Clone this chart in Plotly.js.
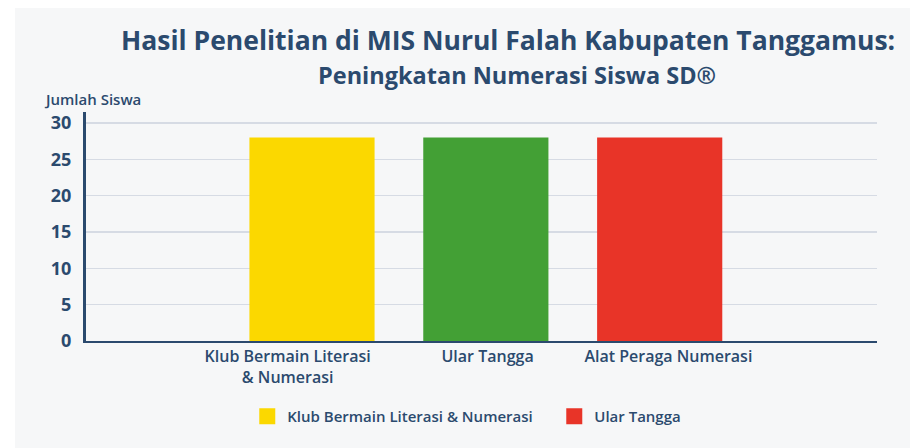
<!DOCTYPE html>
<html><head><meta charset="utf-8">
<script src="https://cdn.plot.ly/plotly-3.0.1.min.js"></script>
<style>html,body{margin:0;padding:0;background:#fff}#chart{width:910px;height:448px}</style>
</head><body><div id="chart"></div>
<script>
const categories = ["Klub Bermain Literasi<br>& Numerasi", "Ular Tangga", "Alat Peraga Numerasi"];
const values = [28, 28, 28];
const barColors = ["#fbd800", "#43a035", "#e83428"];
const legendNames = ["Klub Bermain Literasi & Numerasi", "Ular Tangga"];
const legendColors = ["#fbd800", "#e83428"];
const yTicks = [0, 5, 10, 15, 20, 25, 30];

const navy = "#2b4a6e";
const xIdx = categories.map((_, i) => i);

const traces = categories.map((c, i) => ({
  type: "bar", x: [xIdx[i]], y: [values[i]], width: 0.72,
  marker: {color: barColors[i], line: {width: 0}},
  showlegend: false, hoverinfo: "skip"
}));
legendNames.forEach((n, i) => traces.push({
  type: "scatter", mode: "markers", x: [null], y: [null], name: n,
  marker: {symbol: "square", size: 20, color: legendColors[i]}
}));

const layout = {
  width: 910, height: 448,
  margin: {l: 86, r: 33, t: 112, b: 107},
  paper_bgcolor: "#ffffff", plot_bgcolor: "rgba(0,0,0,0)",
  font: {family: "Open Sans, sans-serif", color: navy},
  showlegend: true,
  legend: {orientation: "h", x: 0.592, xanchor: "center", y: -0.33, yanchor: "middle",
    font: {size: 15, color: navy, weight: 600}, itemwidth: 30, tracegroupgap: 0,
    entrywidth: 262, entrywidthmode: "pixels", bgcolor: "rgba(0,0,0,0)"},
  xaxis: {
    range: [-1.3, 3.25], tickmode: "array", tickvals: [-0.14, 1.01, 2.05], ticktext: categories,
    showgrid: false, zeroline: false, ticks: "", showline: true, linecolor: navy, linewidth: 2,
    tickfont: {size: 16, color: navy, weight: 600}, fixedrange: true
  },
  yaxis: {
    range: [0, 31.5], tickmode: "array", tickvals: yTicks, ticktext: yTicks.map(String),
    showgrid: true, gridcolor: "#d6dbe4", gridwidth: 1.5, zeroline: false,
    showline: true, linecolor: navy, linewidth: 3, ticks: "", ticklabelstandoff: 8,
    tickfont: {size: 18, color: navy, weight: 700}, fixedrange: true
  },
  shapes: [{type: "rect", xref: "paper", yref: "paper", layer: "below",
    x0: -0.0898, x1: 1.05, y0: -0.48, y1: 1.454, fillcolor: "#f6f7f8", line: {width: 0}}],
  annotations: [
    {text: "Hasil Penelitian di MIS Nurul Falah Kabupaten Tanggamus:", xref: "paper", yref: "paper",
     x: (508 - 86) / 791, y: (341 - 40) / 229, xanchor: "center", yanchor: "middle", showarrow: false,
     font: {size: 26.5, color: navy, weight: 700}},
    {text: "Peningkatan Numerasi Siswa SD®", xref: "paper", yref: "paper",
     x: (517 - 86) / 791, y: (341 - 75) / 229, xanchor: "center", yanchor: "middle", showarrow: false,
     font: {size: 23.5, color: navy, weight: 700}},
    {text: "Jumlah Siswa", xref: "paper", yref: "paper",
     x: (42 - 86) / 791, y: (341 - 99) / 229, xanchor: "left", yanchor: "middle", showarrow: false,
     font: {size: 15, color: navy, weight: 600}}
  ]
};
Plotly.newPlot("chart", traces, layout, {displayModeBar: false, staticPlot: true});
</script></body></html>
